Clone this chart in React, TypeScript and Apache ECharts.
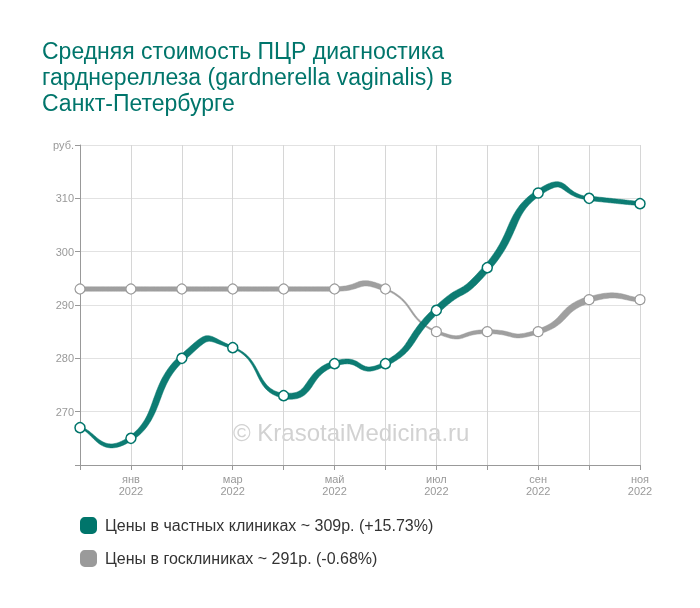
import React, { useEffect, useRef } from "react";
import * as echarts from "echarts";

const months = ["дек", "янв", "фев", "мар", "апр", "май", "июн", "июл", "авг", "сен", "окт", "ноя"];
const years = ["2021", "2022", "2022", "2022", "2022", "2022", "2022", "2022", "2022", "2022", "2022", "2022"];
const privateValues = [267, 265, 280, 282, 273, 279, 279, 289, 297, 311, 310, 309];
const publicValues = [293, 293, 293, 293, 293, 293, 293, 285, 285, 285, 291, 291];
const privateName = "Цены в частных клиниках ~ 309р. (+15.73%)";
const publicName = "Цены в госклиниках ~ 291р. (-0.68%)";
const titleText = "Средняя стоимость ПЦР диагностика\nгарднереллеза (gardnerella vaginalis) в\nСанкт-Петербурге";

// decorative ribbon widths per segment: [start, middle, end] (style only)
const privateWidths = [
  [1.5, 3.5, 4.5], [5, 6.5, 6.5], [6.5, 6, 2.5], [1.5, 2.5, 4.5], [6, 6.5, 5.5], [5, 4.5, 4],
  [5, 6.5, 6.5], [7, 7, 7], [7, 7.5, 6], [6, 5, 3], [4.5, 4.5, 4],
];
const publicWidths = [
  [4.5, 4.5, 4.5], [4.5, 4.5, 4.5], [4.5, 4.5, 4.5], [4.5, 4.5, 4.5], [4.5, 4.5, 4.5], [4.5, 5.5, 5],
  [1.5, 1.5, 1.5], [3, 3.5, 4], [4, 4, 4], [5, 6.5, 6.5], [5.5, 5, 4],
];

const TEAL = "#00756b";
const GRAY = "#9a9a9a";
const FONT = "Liberation Sans, Arial, sans-serif";
const TENSION = 0.3;

function makeRibbon(values: number[], widths: number[][], color: string, opacity: number) {
  return (params: any, api: any) => {
    const i = params.dataIndex;
    const n = values.length;
    if (i >= n - 1) return null;
    const P = (k: number) => {
      const j = Math.max(0, Math.min(n - 1, k));
      return api.coord([j, values[j]]);
    };
    const p0 = P(i - 1), p1 = P(i), p2 = P(i + 1), p3 = P(i + 2);
    const c1 = [p1[0] + TENSION * (p2[0] - p0[0]), p1[1] + TENSION * (p2[1] - p0[1])];
    const c2 = [p2[0] - TENSION * (p3[0] - p1[0]), p2[1] - TENSION * (p3[1] - p1[1])];
    const w = widths[i];
    const N = 40;
    const upper: number[][] = [];
    const lower: number[][] = [];
    for (let s = 0; s <= N; s++) {
      const t = s / N;
      const u = 1 - t;
      const x = u * u * u * p1[0] + 3 * u * u * t * c1[0] + 3 * u * t * t * c2[0] + t * t * t * p2[0];
      const y = u * u * u * p1[1] + 3 * u * u * t * c1[1] + 3 * u * t * t * c2[1] + t * t * t * p2[1];
      const dx = 3 * u * u * (c1[0] - p1[0]) + 6 * u * t * (c2[0] - c1[0]) + 3 * t * t * (p2[0] - c2[0]);
      const dy = 3 * u * u * (c1[1] - p1[1]) + 6 * u * t * (c2[1] - c1[1]) + 3 * t * t * (p2[1] - c2[1]);
      const len = Math.sqrt(dx * dx + dy * dy) || 1;
      const nx = -dy / len, ny = dx / len;
      const ww = t < 0.5 ? w[0] + (w[1] - w[0]) * t * 2 : w[1] + (w[2] - w[1]) * (t - 0.5) * 2;
      upper.push([x + (nx * ww) / 2, y + (ny * ww) / 2]);
      lower.push([x - (nx * ww) / 2, y - (ny * ww) / 2]);
    }
    const points = upper.concat(lower.reverse());
    return {
      type: "polygon",
      shape: { points },
      style: { fill: color, opacity, stroke: color, lineWidth: 0.5 },
      silent: true,
    };
  };
}

export default function App() {
  const ref = useRef<HTMLDivElement>(null);
  useEffect(() => {
    if (!ref.current) return;
    const chart = echarts.init(ref.current, undefined, { renderer: "svg" });
    const categories = months.map((m, i) => m + "\n" + years[i]);
    chart.setOption({
      animation: false,
      textStyle: { fontFamily: FONT },
      title: {
        text: titleText,
        left: 37,
        top: 33,
        textStyle: { fontFamily: FONT, fontSize: 23, fontWeight: "normal", color: TEAL, lineHeight: 26 },
      },
      graphic: [
        {
          type: "text",
          left: 233,
          top: 420,
          silent: true,
          style: { text: "© KrasotaiMedicina.ru", fontSize: 24, fill: "#d2d2d2", fontFamily: FONT },
        },
      ],
      legend: {
        orient: "vertical",
        left: 75,
        top: 512,
        itemWidth: 15,
        itemHeight: 15,
        itemGap: 16,
        icon: "roundRect",
        textStyle: { fontSize: 16, color: "#333", fontFamily: FONT, padding: [0, 0, 0, 4] },
        data: [
          { name: privateName, itemStyle: { color: TEAL } },
          { name: publicName, itemStyle: { color: GRAY } },
        ],
      },
      grid: { left: 80, right: 60, top: 145, bottom: 143 },
      xAxis: {
        type: "category",
        data: categories,
        boundaryGap: false,
        axisLine: { lineStyle: { color: "#999" } },
        axisTick: { show: true, interval: 0, length: 5, lineStyle: { color: "#999" } },
        axisLabel: {
          interval: (i: number) => i % 2 === 1,
          color: "#999",
          fontSize: 11,
          lineHeight: 12,
          margin: 8,
        },
        splitLine: { show: true, interval: 0, lineStyle: { color: "#d6d6d6" } },
      },
      yAxis: {
        type: "value",
        min: 260,
        max: 320,
        interval: 10,
        axisLine: { show: true, lineStyle: { color: "#999" } },
        axisTick: { show: true, length: 5, lineStyle: { color: "#999" } },
        axisLabel: {
          color: "#999",
          fontSize: 11,
          margin: 6,
          formatter: (v: number) => (v === 320 ? "руб." : v === 260 ? "" : String(v)),
        },
        splitLine: { show: true, lineStyle: { color: "#e2e2e2" } },
      },
      series: [
        {
          name: "publicRibbon",
          type: "custom",
          coordinateSystem: "cartesian2d",
          data: publicValues.map((v, i) => [i, v]),
          encode: { x: 0, y: 1 },
          renderItem: makeRibbon(publicValues, publicWidths, GRAY, 0.95),
          z: 2,
          silent: true,
        },
        {
          name: "privateRibbon",
          type: "custom",
          coordinateSystem: "cartesian2d",
          data: privateValues.map((v, i) => [i, v]),
          encode: { x: 0, y: 1 },
          renderItem: makeRibbon(privateValues, privateWidths, TEAL, 0.95),
          z: 3,
          silent: true,
        },
        {
          name: publicName,
          type: "line",
          data: publicValues,
          symbol: "circle",
          symbolSize: 10,
          itemStyle: { color: "#fff", borderColor: GRAY, borderWidth: 1.2 },
          lineStyle: { color: GRAY, width: 0, opacity: 0 },
          z: 4,
        },
        {
          name: privateName,
          type: "line",
          data: privateValues,
          symbol: "circle",
          symbolSize: 10,
          itemStyle: { color: "#fff", borderColor: TEAL, borderWidth: 1.5 },
          lineStyle: { color: TEAL, width: 0, opacity: 0 },
          z: 5,
        },
      ],
    });
    return () => chart.dispose();
  }, []);
  return <div ref={ref} style={{ position: "fixed", left: 0, top: 0, width: 700, height: 608 }} />;
}
